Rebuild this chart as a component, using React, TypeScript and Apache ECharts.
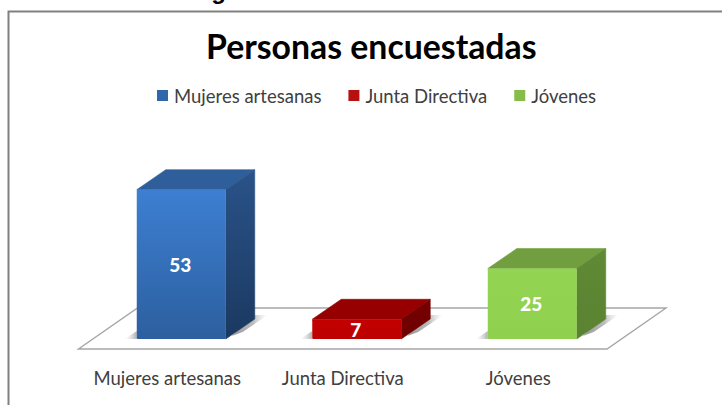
import React, { useEffect, useRef } from "react";
import * as echarts from "echarts";

const categories = ["Mujeres artesanas", "Junta Directiva", "Jóvenes"];
const mujeres = [53];
const junta = [7];
const jovenes = [25];
const seriesNames = categories;
const valueLists = [mujeres, junta, jovenes];

const palette = [
  { front: ["#3d7fd2", "#2c5f9f"], side: ["#2a5389", "#1b3960"], top: "#2e5f9a", legend: "#2f67ab" },
  { front: ["#c30000", "#bd0000"], side: ["#780000", "#6c0000"], top: "#960000", legend: "#b80f0f" },
  { front: ["#93d552", "#8fd04e"], side: ["#608a35", "#5a8232"], top: "#719f3f", legend: "#85bd48" },
];

const FONT = "Lato";
const DEPTH_X = 29;
const DEPTH_Y = 20;
const BAR_SHIFT = 14;

function vGrad(c: string[]) {
  return new echarts.graphic.LinearGradient(0, 0, 0, 1, [
    { offset: 0, color: c[0] },
    { offset: 1, color: c[1] },
  ]);
}

function poly(points: number[][], fill: any, extra: any = {}) {
  return {
    type: "polygon",
    shape: { points },
    style: { fill, stroke: fill, lineWidth: 0.6, lineJoin: "round", ...extra },
  };
}

function barRenderer(index: number) {
  return (params: any, api: any) => {
    const p = api.coord([api.value(0), api.value(1)]);
    const base = api.coord([api.value(0), 0]);
    const band = api.size([1, 0])[0];
    const w = band * 0.507;
    const cx = p[0] + BAR_SHIFT;
    const l = cx - w / 2;
    const r = cx + w / 2;
    const t = p[1];
    const b = base[1];
    const c = palette[index];
    const shadowGrad = new echarts.graphic.LinearGradient(0, 0, 1, 0, [
      { offset: 0, color: "rgba(80,80,80,0.6)" },
      { offset: 0.6, color: "rgba(120,120,120,0.5)" },
      { offset: 1, color: "rgba(200,200,200,0)" },
    ]);
    const leftGrad = new echarts.graphic.LinearGradient(0, 0, 1, 0, [
      { offset: 0, color: "rgba(190,190,190,0)" },
      { offset: 1, color: "rgba(110,110,110,0.55)" },
    ]);
    return {
      type: "group",
      children: [
        poly(
          [
            [r + DEPTH_X - 2, b - DEPTH_Y - 4],
            [r + DEPTH_X + 13, b - DEPTH_Y - 4],
            [r + 17, b - 7],
            [r + 6, b - 3],
          ],
          shadowGrad,
          { stroke: "none" },
        ),
        poly(
          [
            [l - 12, b],
            [l, b - 8],
            [l, b],
          ],
          leftGrad,
          { stroke: "none" },
        ),
        poly([[l, t], [l + DEPTH_X, t - DEPTH_Y], [r + DEPTH_X, t - DEPTH_Y], [r, t]], c.top),
        poly(
          [[r, t], [r + DEPTH_X, t - DEPTH_Y], [r + DEPTH_X, b - DEPTH_Y], [r, b]],
          new echarts.graphic.LinearGradient(0, 0, 0, 1, [
            { offset: 0, color: c.side[0] },
            { offset: 1, color: c.side[1] },
          ]),
        ),
        {
          type: "rect",
          shape: { x: l, y: t, width: r - l, height: b - t, r: 1 },
          style: { fill: vGrad(c.front) },
        },
        {
          type: "text",
          style: {
            x: cx - 1,
            y: (t + b) / 2,
            text: String(api.value(1)),
            fill: "#ffffff",
            font: `900 19px ${FONT}`,
            align: "center",
            verticalAlign: "middle",
          },
        },
      ],
    };
  };
}

function floorRenderer(params: any) {
  const g = params.coordSys;
  const front = g.y + g.height + 10;
  const back = front - 41;
  return {
    type: "polygon",
    shape: {
      points: [
        [g.x - 1, front],
        [g.x + g.width + 1, front],
        [g.x + g.width + 60, back],
        [g.x + 58, back],
      ],
    },
    style: { fill: "#ffffff", stroke: "#a6a6a6", lineWidth: 1.4 },
  };
}

export default function App() {
  const ref = useRef<HTMLDivElement>(null);
  useEffect(() => {
    document.body.style.margin = "0";
    const chart = echarts.init(ref.current!, null, { renderer: "svg" });
    chart.setOption({
      animation: false,
      backgroundColor: "#ffffff",
      title: {
        text: "Personas encuestadas",
        left: 201,
        top: 24,
        textStyle: { fontFamily: FONT, fontSize: 33.8, fontWeight: "bold", color: "#000000" },
      },
      legend: {
        data: seriesNames,
        top: 86,
        left: 157,
        padding: 0,
        itemWidth: 11,
        itemHeight: 11,
        itemGap: 27,
        icon: "rect",
        textStyle: { fontFamily: FONT, fontSize: 18.5, color: "#404040", padding: [0, 0, 0, 1] },
      },
      grid: { left: 79.5, right: 116, top: 170, bottom: 66 },
      xAxis: {
        type: "category",
        data: categories,
        axisLine: { show: false },
        axisTick: { show: false },
        axisLabel: { fontFamily: FONT, fontSize: 18.5, color: "#404040", margin: 29, interval: 0 },
      },
      yAxis: { type: "value", min: 0, max: 60, show: false, splitLine: { show: false } },
      series: [
        {
          type: "custom",
          name: "floor",
          silent: true,
          z: 1,
          data: [[categories[0], 0]],
          encode: { x: 0, y: 1 },
          renderItem: floorRenderer,
        },
        ...seriesNames.map((name, i) => ({
          type: "custom",
          name,
          z: 2,
          itemStyle: { color: palette[i].legend },
          data: valueLists[i].map((v) => [categories[i], v]),
          encode: { x: 0, y: 1 },
          renderItem: barRenderer(i),
        })),
      ],
      graphic: [
        {
          type: "text",
          left: 190,
          top: -22,
          style: {
            text: "Figura 1. Personas encuestadas",
            fill: "#000000",
            font: `bold 24px "Liberation Sans"`,
          },
        },
        { type: "rect", shape: { x: 8.5, y: 11.5, width: 800, height: 500 }, style: { fill: "none", stroke: "#808080", lineWidth: 2 } },
      ],
    });
    return () => chart.dispose();
  }, []);
  return <div ref={ref} style={{ position: "fixed", left: 0, top: 0, width: 722, height: 405 }} />;
}
